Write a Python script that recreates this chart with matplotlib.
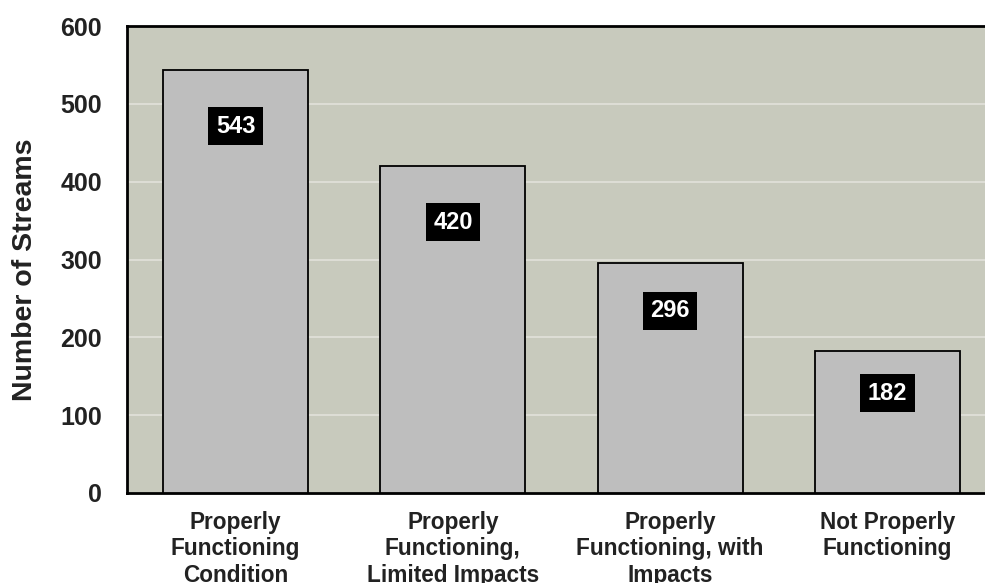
import matplotlib.pyplot as plt

categories = ['Properly\nFunctioning\nCondition',
              'Properly\nFunctioning,\nLimited Impacts',
              'Properly\nFunctioning, with\nImpacts',
              'Not Properly\nFunctioning']
streams = [543, 420, 296, 182]
yticks = [0, 100, 200, 300, 400, 500, 600]

# how far below the bar top each value box sits (data units)
label_drop = [72, 72, 62, 54]

plt.rcParams['font.family'] = ['Liberation Sans', 'DejaVu Sans']
plt.rcParams['font.weight'] = 'bold'
txt = '#222222'

fig = plt.figure(figsize=(9.85, 5.83), dpi=100)
ax = fig.add_axes([127 / 985, 90 / 583, 869 / 985, 467 / 583])
ax.set_facecolor('#C8CABD')

x = range(len(categories))
ax.bar(x, streams, width=0.667, color='#BEBEBE', edgecolor='black', linewidth=1.3, zorder=3)

for i, v in enumerate(streams):
    ax.text(i, v - label_drop[i], str(v), ha='center', va='center', color='white',
            fontsize=17, fontweight='bold', zorder=4,
            bbox=dict(boxstyle='square,pad=0.32', facecolor='black', edgecolor='none'))

ax.set_xlim(-0.5, 3.5)
ax.set_ylim(0, 600)
ax.set_yticks(yticks)
ax.set_xticks(list(x))
ax.set_xticklabels(categories, fontsize=16.3, fontweight='bold', color=txt, linespacing=1.18)
ax.tick_params(axis='y', length=0, pad=18, labelsize=18, labelcolor=txt)
ax.tick_params(axis='x', length=0, pad=13)
ax.yaxis.grid(True, color='#E2E2DA', linewidth=1.2, zorder=0)
ax.set_axisbelow(True)

for side in ['left', 'bottom', 'top']:
    ax.spines[side].set_linewidth(2)
    ax.spines[side].set_color('black')
ax.spines['right'].set_visible(False)

ax.set_ylabel('Number of Streams', fontsize=20.5, fontweight='bold', color=txt)
ax.yaxis.set_label_coords(-89 / 869, 0.479)

fig.savefig('out.png', dpi=100)
